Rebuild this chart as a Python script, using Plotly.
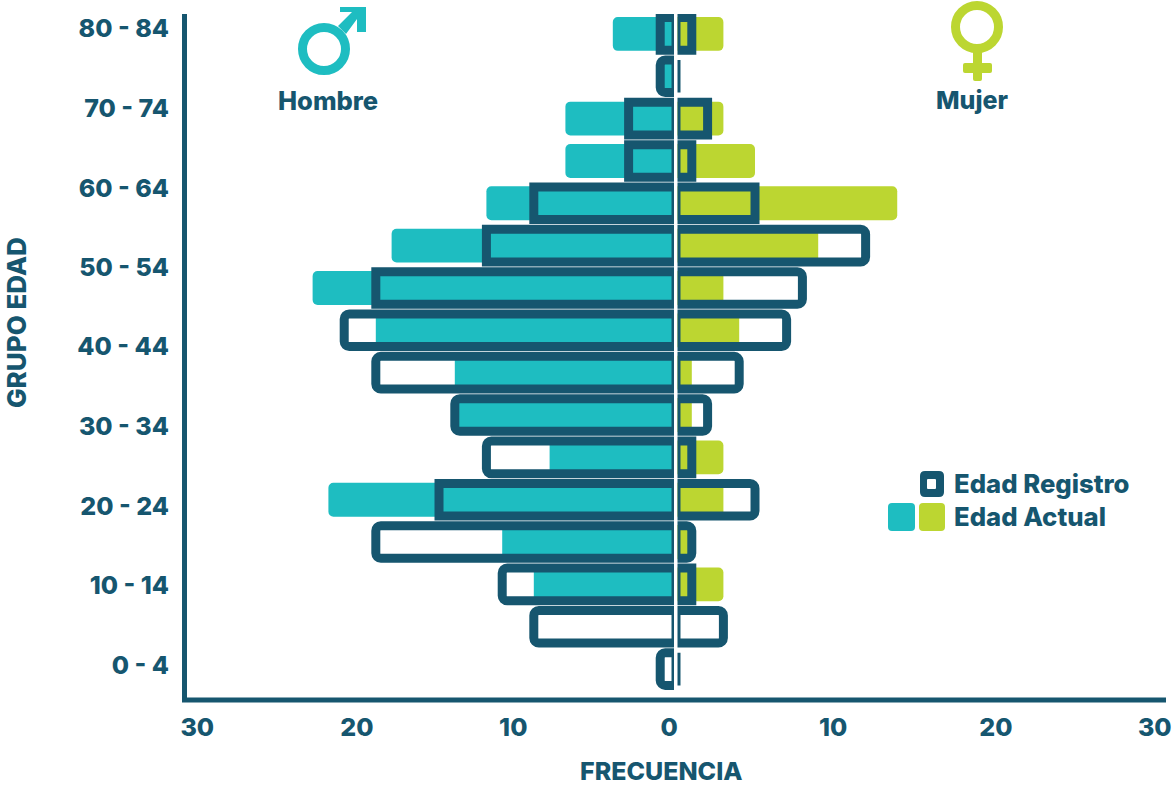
import plotly.graph_objects as go

W, H = 1176, 786
DARK, TEAL, LIME = "#16566F", "#1EBDC1", "#BCD631"
FONT = "Inter"

# Rows run from the bottom of the chart to the top
rows = list(range(16))
hombre_actual = [0, 0, 9, 11, 22, 8, 14, 14, 19, 23, 18, 12, 7, 7, 1, 4]
hombre_registro = [1, 9, 11, 19, 15, 12, 14, 19, 21, 19, 12, 9, 3, 3, 1, 1]
mujer_actual = [0, 0, 3, 1, 3, 3, 1, 1, 4, 3, 9, 14, 5, 3, 0, 3]
mujer_registro = [0, 3, 1, 1, 5, 1, 2, 4, 7, 8, 12, 5, 1, 2, 0, 1]

grupo_labels = ["0 - 4", "10 - 14", "20 - 24", "30 - 34", "40 - 44",
                "50 - 54", "60 - 64", "70 - 74", "80 - 84"]
grupo_ticks = [0.09, 1.98, 3.85, 5.74, 7.63, 9.5, 11.36, 13.25, 15.14]
tick_hombre = ["30", "20", "10", "0"]
tick_hombre_pos = [30.3, 20.2, 10.3, 0.44]
tick_mujer = ["10", "20", "30"]
tick_mujer_pos = [9.94, 20.25, 30.3]


def px(x):
    return x / W


def py(y):
    return 1 - y / H


def rr(x0, y0, x1, y1, r):
    a0, a1, b0, b1 = px(x0), px(x1), py(y0), py(y1)
    rx, ry = r / W, r / H
    return (f"M{a0+rx},{b0} L{a1-rx},{b0} Q{a1},{b0} {a1},{b0-ry} L{a1},{b1+ry} "
            f"Q{a1},{b1} {a1-rx},{b1} L{a0+rx},{b1} Q{a0},{b1} {a0},{b1+ry} "
            f"L{a0},{b0-ry} Q{a0},{b0} {a0+rx},{b0} Z")


def poly(points):
    return "M" + " L".join(f"{px(x)},{py(y)}" for x, y in points) + " Z"


fig = go.Figure()


def bars(vals, color, xaxis, width, line=None):
    fig.add_trace(go.Bar(
        y=rows, x=vals, orientation="h", width=width, xaxis=xaxis, yaxis="y",
        marker=dict(color=color, cornerradius=5,
                    line=dict(width=9 if line else 0, color=line or "rgba(0,0,0,0)")),
        showlegend=False, hoverinfo="x+y"))


bars(hombre_actual, TEAL, "x", 0.8)
bars(mujer_actual, LIME, "x2", 0.8)
bars(hombre_registro, "rgba(0,0,0,0)", "x", 0.77, DARK)
bars(mujer_registro, "rgba(0,0,0,0)", "x2", 0.77, DARK)

tickfont = dict(family=FONT, size=25, color=DARK, weight=800)

shapes = [
    dict(type="line", xref="paper", yref="paper", x0=px(182), x1=px(1166), y0=py(700), y1=py(700),
         line=dict(color=DARK, width=5), layer="above"),
    # male icon
    dict(type="circle", xref="paper", yref="paper", x0=px(302.5), x1=px(345.5), y0=py(27.5), y1=py(70.5),
         line=dict(color=TEAL, width=9)),
    dict(type="path", xref="paper", yref="paper", line=dict(width=0), fillcolor=TEAL,
         path=poly([(338, 26), (352, 12), (340, 12), (340, 7), (366, 7), (366, 32), (357, 32), (357, 19), (346, 34)])),
    # female icon
    dict(type="circle", xref="paper", yref="paper", x0=px(955.5), x1=px(998.5), y0=py(5.5), y1=py(48.5),
         line=dict(color=LIME, width=9)),
    dict(type="path", xref="paper", yref="paper", line=dict(width=0), fillcolor=LIME, path=rr(973, 50, 982, 81, 2)),
    dict(type="path", xref="paper", yref="paper", line=dict(width=0), fillcolor=LIME, path=rr(963, 63, 992, 73, 2)),
    # legend swatches
    dict(type="path", xref="paper", yref="paper", line=dict(width=0), fillcolor=DARK, path=rr(920, 471, 944, 497, 5)),
    dict(type="path", xref="paper", yref="paper", line=dict(width=0), fillcolor="white", path=rr(927, 479, 936, 489, 1)),
    dict(type="path", xref="paper", yref="paper", line=dict(width=0), fillcolor=TEAL, path=rr(888, 503, 915, 531, 4)),
    dict(type="path", xref="paper", yref="paper", line=dict(width=0), fillcolor=LIME, path=rr(919, 503, 945, 531, 4)),
]


def note(text, x, y, size, anchor="center", angle=0):
    return dict(text=text, x=px(x), y=py(y), xref="paper", yref="paper", showarrow=False,
                xanchor=anchor, yanchor="middle", textangle=angle, borderpad=0,
                font=dict(family=FONT, size=size, color=DARK, weight=800))


annotations = [
    note("Hombre", 328, 100, 25.5),
    note("Mujer", 972, 100, 25),
    note("Edad Registro", 953, 484, 25.7, "left"),
    note("Edad Actual", 953, 516, 25.7, "left"),
    note("FRECUENCIA", 661, 770.5, 25),
    note("GRUPO EDAD", 16, 323, 26, angle=-90),
]

fig.update_layout(
    width=W, height=H, margin=dict(l=0, r=0, t=0, b=0, pad=0, autoexpand=False), autosize=False,
    paper_bgcolor="white", plot_bgcolor="white", barmode="overlay",
    shapes=shapes, annotations=annotations, showlegend=False,
    xaxis=dict(domain=[px(187), px(674)], range=[30.95, 0.127], showgrid=False, zeroline=False,
               showline=False, tickmode="array", tickvals=tick_hombre_pos, ticktext=tick_hombre,
               tickfont=tickfont, ticks="", ticklabelstandoff=12, anchor="y", automargin=False),
    xaxis2=dict(domain=[px(677.5), px(1166)], range=[0.095, 31.01], showgrid=False, zeroline=False,
                showline=False, tickmode="array", tickvals=tick_mujer_pos, ticktext=tick_mujer,
                tickfont=tickfont, ticks="", ticklabelstandoff=12, anchor="y", automargin=False),
    yaxis=dict(domain=[py(697.5), py(14)], range=[-0.671, 15.47], showgrid=False, zeroline=False,
               showline=True, linecolor=DARK, linewidth=5, tickmode="array", tickvals=grupo_ticks,
               ticktext=grupo_labels, tickfont=tickfont, ticks="", ticklabelstandoff=8, anchor="x",
               automargin=False),
)

fig.write_html("out.html", post_script="document.body.style.margin='0';",
               config={"displayModeBar": False})
